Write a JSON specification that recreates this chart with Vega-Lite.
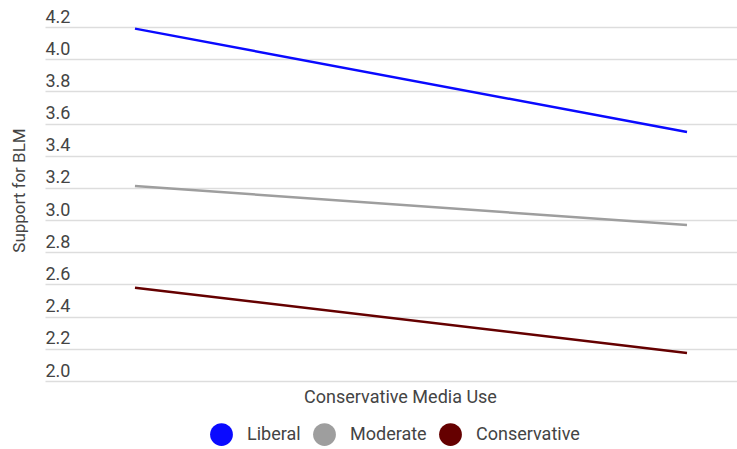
{
  "$schema": "https://vega.github.io/schema/vega-lite/v6.json",
  "width": 692,
  "height": 354,
  "autosize": {"type": "none"},
  "padding": {"left": 45, "top": 27, "right": 0, "bottom": 68},
  "config": {
    "font": "Roboto",
    "view": {"stroke": null},
    "axis": {"labelFont": "Roboto", "titleFont": "Roboto"},
    "legend": {"labelFont": "Roboto"}
  },
  "data": {
    "values": [
      {"media": 0, "ideology": "Liberal", "support": 4.19},
      {"media": 1, "ideology": "Liberal", "support": 3.547},
      {"media": 0, "ideology": "Moderate", "support": 3.212},
      {"media": 1, "ideology": "Moderate", "support": 2.969},
      {"media": 0, "ideology": "Conservative", "support": 2.58},
      {"media": 1, "ideology": "Conservative", "support": 2.174}
    ]
  },
  "mark": {"type": "line", "strokeWidth": 2.5},
  "encoding": {
    "x": {
      "field": "media",
      "type": "quantitative",
      "scale": {"domain": [-0.163, 1.0906], "nice": false, "zero": false},
      "axis": {
        "title": "Conservative Media Use",
        "labels": false,
        "ticks": false,
        "domain": false,
        "grid": false,
        "titleFontSize": 18,
        "titleFontWeight": "normal",
        "titleColor": "#444444",
        "titlePadding": 7,
        "titleX": 355
      }
    },
    "y": {
      "field": "support",
      "type": "quantitative",
      "scale": {"domain": [2.0, 4.2], "nice": false, "zero": false},
      "axis": {
        "title": "Support for BLM",
        "values": [2.0, 2.2, 2.4, 2.6, 2.8, 3.0, 3.2, 3.4, 3.6, 3.8, 4.0, 4.2],
        "format": ".1f",
        "ticks": false,
        "domain": false,
        "labelAlign": "left",
        "labelBaseline": "bottom",
        "labelPadding": 0,
        "labelOffset": -1,
        "labelFontSize": 18,
        "labelColor": "#444444",
        "gridColor": "#dddddd",
        "gridWidth": 1.5,
        "titleFontSize": 17,
        "titleFontWeight": "normal",
        "titleColor": "#444444",
        "titleX": -17,
        "titleY": 163
      }
    },
    "color": {
      "field": "ideology",
      "type": "nominal",
      "sort": ["Liberal", "Moderate", "Conservative"],
      "scale": {
        "domain": ["Liberal", "Moderate", "Conservative"],
        "range": ["#0a0aff", "#9e9e9e", "#650000"]
      },
      "legend": {
        "title": null,
        "orient": "none",
        "legendX": 165,
        "legendY": 396,
        "direction": "horizontal",
        "symbolType": "circle",
        "symbolSize": 520,
        "symbolStrokeWidth": 0,
        "symbolOpacity": 1,
        "labelFontSize": 18,
        "labelColor": "#444444",
        "labelOffset": 14,
        "columnPadding": 12,
        "encode": {
          "symbols": {
            "update": {
              "fill": {"scale": "color", "field": "value"},
              "fillOpacity": {"value": 1}
            }
          }
        }
      }
    }
  }
}
